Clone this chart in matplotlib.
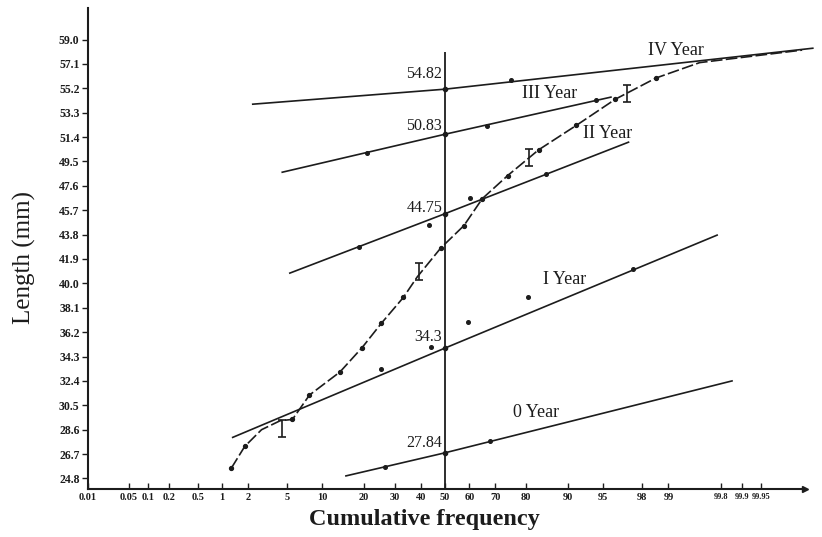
import numpy as np
import matplotlib
matplotlib.use('Agg')
import matplotlib.pyplot as plt
from statistics import NormalDist

# ---- data ----
# cumulative frequency curve (all age groups together)
cum_p = [1.3, 1.85, 2.8, 4.3, 5.6, 7.9, 13.7, 19.4, 25.4, 33.2, 38.6, 48.2,
         57.8, 65.1, 74.3, 83.5, 91.4, 96.2, 98.6, 99.6, 99.991]
cum_len = [25.6, 27.3, 28.6, 29.3, 29.4, 31.3, 33.1, 35.0, 36.9, 38.9, 40.5, 42.75,
           44.5, 46.6, 48.4, 50.4, 52.3, 54.35, 56.0, 57.2, 58.2]
cum_dot = [1, 1, 0, 0, 1, 1, 1, 1, 1, 1, 0, 1,
           1, 1, 1, 1, 1, 1, 1, 0, 1]

# error bars on the curve
err_p = [4.5, 39.3, 80.9, 97.1]
err_len = [28.7, 40.9, 49.8, 54.8]
err_half = 0.65

# age groups: fitted lines (left end, 50 %, right end)
years = ['0 Year', 'I Year', 'II Year', 'III Year', 'IV Year']
mean_labels = ['27.84', '34.3', '44.75', '50.83', '54.82']
line_p = [[15.1, 50, 99.86], [1.35, 50, 99.77], [5.3, 50, 97.2],
          [4.5, 50, 95.8], [2.26, 50, 99.9936]]
line_len = [[25.0, 26.8, 32.4], [28.0, 34.96, 43.76], [40.8, 45.43, 51.0],
            [48.66, 51.62, 54.51], [53.96, 55.13, 58.32]]

# plotted points of each age group
pts_p = [[26.7, 68.1], [97.5, 80.6, 59.6, 25.4, 44.0], [18.6, 85.3, 43.2, 60.4],
         [20.8, 67.0, 94.2], [75.3]]
pts_len = [[25.7, 27.7], [41.1, 38.9, 37.0, 33.3, 35.05], [42.8, 48.5, 44.55, 46.65],
           [50.15, 52.25, 54.27], [55.83]]

xticks = [0.01, 0.05, 0.1, 0.2, 0.5, 1, 2, 5, 10, 20, 30, 40, 50, 60, 70, 80,
          90, 95, 98, 99, 99.8, 99.9, 99.95]
xticklabels = ['0.01', '0.05', '0.1', '0.2', '0.5', '1', '2', '5', '10', '20', '30',
               '40', '50', '60', '70', '80', '90', '95', '98', '99', '99.8', '99.9', '99.95']
yticks = [24.8, 26.7, 28.6, 30.5, 32.4, 34.3, 36.2, 38.1, 40.0, 41.9, 43.8,
          45.7, 47.6, 49.5, 51.4, 53.3, 55.2, 57.1, 59.0]

# ---- probability (probit) scale ----
nd = NormalDist()
_ppf = np.vectorize(lambda q: nd.inv_cdf(q), otypes=[float])
_cdf = np.vectorize(lambda z: nd.cdf(z), otypes=[float])


def fwd(p):
    p = np.clip(np.asarray(p, dtype=float), 1e-7, 100 - 1e-7)
    return _ppf(p / 100.0)


def inv(z):
    return _cdf(np.asarray(z, dtype=float)) * 100.0


plt.rcParams['font.family'] = ['Liberation Serif', 'DejaVu Serif']
ink = '#1c1c1c'

fig = plt.figure(figsize=(8.22, 5.37), dpi=100)
ax = fig.add_axes([0.107, 0.0894, 0.8688, 0.8956])
ax.set_xscale('function', functions=(fwd, inv))
ax.set_xlim(0.01, 99.99)
ax.set_ylim(23.98, 61.45)

for s in ['top', 'right']:
    ax.spines[s].set_visible(False)
for s in ['left', 'bottom']:
    ax.spines[s].set_linewidth(1.5)
    ax.spines[s].set_color(ink)
ax.plot(1.004, 0, '>', color=ink, ms=4, transform=ax.transAxes, clip_on=False)

ax.set_xticks(xticks)
ax.set_xticklabels(xticklabels)
ax.set_yticks(yticks)
ax.set_yticklabels(['%.1f' % v for v in yticks])
ax.minorticks_off()
ax.tick_params(axis='x', direction='in', length=4, width=1, colors=ink,
               labelsize=7.5, pad=3)
ax.tick_params(axis='y', direction='out', length=4, width=1, colors=ink,
               labelsize=8.5, pad=2)
for lab in ax.get_xticklabels() + ax.get_yticklabels():
    lab.set_fontweight('bold')
# the last high-percentage ticks sit very close together
for lab in ax.get_xticklabels()[-3:]:
    lab.set_fontsize(6)

# 50 % line
ax.vlines(50, 23.98, 58.0, color=ink, lw=1.3)

# age group lines, means and points
label_dy = [1.5, 2.5, -1.5, 0.5, 5.5]
for i in range(len(years)):
    ax.plot(line_p[i], line_len[i], color=ink, lw=1.2, clip_on=False)
    ax.plot(50, line_len[i][1], 'o', color=ink, ms=3)
    ax.annotate(mean_labels[i], (50, line_len[i][1]), xytext=(-2, label_dy[i]),
                textcoords='offset points', ha='right', va='bottom',
                fontsize=11.5, color=ink)
    ax.plot(pts_p[i], pts_len[i], 'o', color=ink, ms=2.6, ls='none')

# cumulative curve
ax.plot(cum_p, cum_len, color=ink, lw=1.2, ls=(0, (7, 2)))
dp = [p for p, d in zip(cum_p, cum_dot) if d]
dl = [l for l, d in zip(cum_len, cum_dot) if d]
ax.plot(dp, dl, 'o', color=ink, ms=2.8, ls='none')
ax.errorbar(err_p, err_len, yerr=err_half, fmt='none', ecolor=ink,
            elinewidth=1.2, capsize=3, capthick=1.2)

# group labels
ax.text(99.18, 58.17, 'IV Year', fontsize=13, ha='center', va='center', color=ink)
ax.text(86.3, 54.82, 'III Year', fontsize=13, ha='center', va='center', color=ink)
ax.text(95.5, 51.7, 'II Year', fontsize=13, ha='center', va='center', color=ink)
ax.text(89.4, 40.33, 'I Year', fontsize=13, ha='center', va='center', color=ink)
ax.text(82.9, 29.97, '0 Year', fontsize=13, ha='center', va='center', color=ink)

fig.text(0.030, 0.521, 'Length (mm)', rotation=90, ha='center', va='center',
         fontsize=18, color=ink)
fig.text(0.516, 0.032, 'Cumulative frequency', ha='center', va='center',
         fontsize=17.5, fontweight='bold', color=ink)

fig.savefig('out.png', dpi=100)
